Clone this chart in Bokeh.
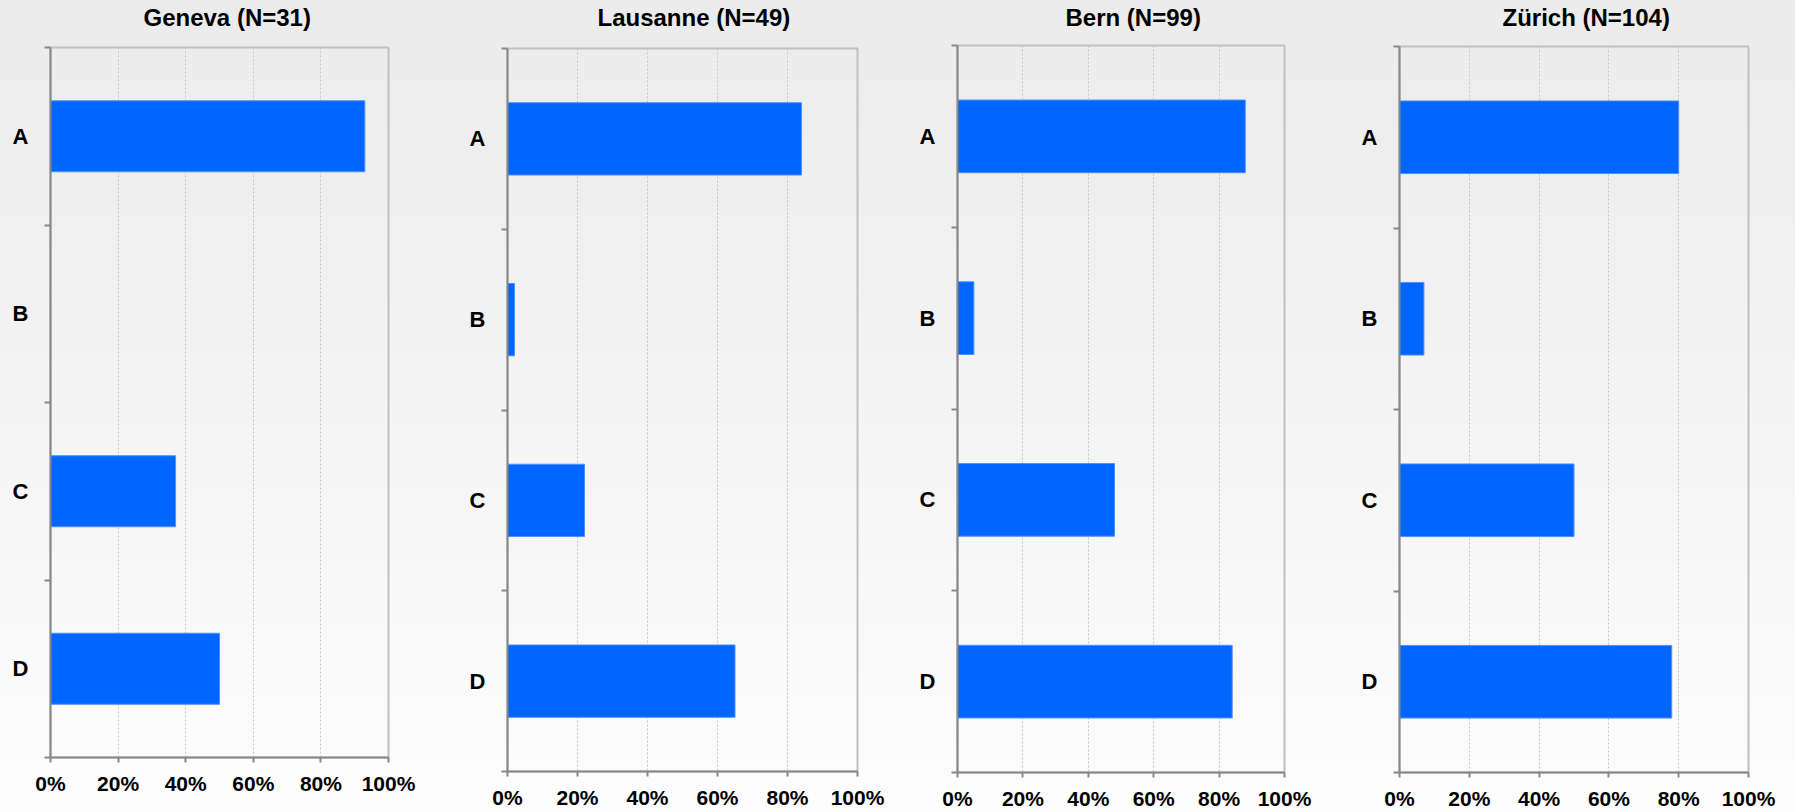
from bokeh.plotting import figure
from bokeh.models import Range1d, FixedTicker, PrintfTickFormatter, Title
from bokeh.layouts import row, column
from bokeh.embed import file_html
from bokeh.resources import INLINE

categories = ["A", "B", "C", "D"]
cities = ["Geneva", "Lausanne", "Bern", "Zürich"]
sample_sizes = [31, 49, 99, 104]
geneva = [93, 0, 37, 50]
lausanne = [84, 2, 22, 65]
bern = [88, 5, 48, 84]
zurich = [80, 7, 50, 78]
x_ticks = [0, 20, 40, 60, 80, 100]

series = [geneva, lausanne, bern, zurich]

FONT = "Liberation Sans"
H = 812
# fig width, border left, right, top, bottom, title offset
panel_layout = [
    (448, 50, 60, 47, H - 757, 93),
    (450, 59, 41, 48, H - 771, 90),
    (440, 59, 54, 45, H - 774, 108),
    (457, 61, 47, 46, H - 776, 103),
]

centers = [i + 0.5 for i in range(len(categories))]
bounds = [float(i) for i in range(len(categories) + 1)]

figs = []
for city, n, vals, (w, bl, br, bt, bb, toff) in zip(cities, sample_sizes, series, panel_layout):
    p = figure(width=w, height=H, output_backend="svg", toolbar_location=None,
               x_range=Range1d(0, 100), y_range=Range1d(len(categories), 0),
               min_border_left=bl, min_border_right=br, min_border_top=bt, min_border_bottom=bb,
               background_fill_color=None, border_fill_color=None)
    p.hbar(y=centers, right=vals, left=0, height=0.4,
           fill_color="#0066ff", line_color="#4d90ff", line_width=1)

    p.title.visible = False
    # spacer between frame and title (pushes the title upwards)
    p.add_layout(Title(text=" ", text_font_size="1px", standoff=14 + (bt - 47)), "above")
    p.add_layout(Title(text=f"{city} (N={n})", align="left", offset=toff, standoff=0,
                       text_font=FONT, text_font_size="24px", text_font_style="bold",
                       text_color="#000000"), "above")

    p.outline_line_color = "#c0c0c0"
    p.outline_line_width = 2

    xa = p.xaxis[0]
    xa.ticker = FixedTicker(ticks=x_ticks)
    xa.formatter = PrintfTickFormatter(format="%d%%")
    xa.major_tick_out = 5
    xa.major_tick_in = 0
    xa.minor_tick_line_color = None
    xa.axis_line_color = "#888888"
    xa.axis_line_width = 2
    xa.major_tick_line_color = "#888888"
    xa.major_tick_line_width = 2
    xa.major_label_standoff = 9
    xa.major_label_text_font = FONT
    xa.major_label_text_font_size = "21px"
    xa.major_label_text_font_style = "bold"
    xa.major_label_text_color = "#000000"

    ya = p.yaxis[0]
    ya.ticker = FixedTicker(ticks=centers, minor_ticks=bounds)
    ya.major_label_overrides = {c: cat for c, cat in zip(centers, categories)}
    ya.major_tick_out = 0
    ya.major_tick_in = 0
    ya.minor_tick_out = 6
    ya.minor_tick_in = 0
    ya.minor_tick_line_color = "#888888"
    ya.minor_tick_line_width = 2
    ya.axis_line_color = "#888888"
    ya.axis_line_width = 2
    ya.major_label_standoff = 16
    ya.major_label_text_font = FONT
    ya.major_label_text_font_size = "22px"
    ya.major_label_text_font_style = "bold"
    ya.major_label_text_color = "#000000"

    p.xgrid.ticker = FixedTicker(ticks=x_ticks[1:-1])
    p.xgrid.grid_line_color = "#c4c4c4"
    p.xgrid.grid_line_dash = "2 2"
    p.xgrid.grid_line_width = 1
    p.ygrid.visible = False
    figs.append(p)

layout = row(*[column(p) for p in figs],
             styles={"background": "linear-gradient(to bottom, #ebebeb, #fdfdfd)"})

open("out.html", "w").write(file_html(layout, INLINE))
